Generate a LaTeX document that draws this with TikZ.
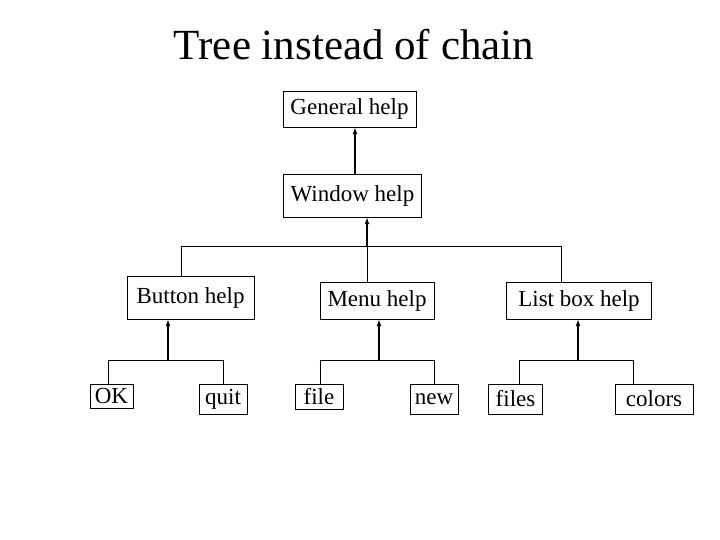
\documentclass[tikz,border=0pt]{standalone}
\usepackage{fontspec}
\setmainfont{Liberation Serif}
\usetikzlibrary{arrows.meta}
\tikzset{box/.style={draw, thin, inner sep=0pt, font=\fontsize{23}{26}\selectfont},
  up/.style={-{Latex[length=7pt,width=5pt]}, line width=1.8pt},
  bus/.style={thin}}
\begin{document}
\begin{tikzpicture}[x=1pt, y=-1pt]
  \useasboundingbox (0,0) rectangle (720,540);
  \node[font=\fontsize{43}{48}\selectfont] (title) at (354,45) {Tree instead of chain};

  % upper part
  \node[box, minimum width=133, minimum height=36] (gen) at (349.5,109) {General help};
  \node[box, minimum width=138, minimum height=43] (win) at (352.5,195.5) {Window help};
  \draw[up] (355,174) coordinate (w0) -- (w0 |- gen.south);

  % middle level
  \node[box, minimum width=127, minimum height=43] (btn) at (190.5,297.5) {Button help};
  \node[box, minimum width=114, minimum height=37] (menu) at (377,300.5) {Menu help};
  \node[box, minimum width=145, minimum height=37] (list) at (579,300.5) {List box help};
  \coordinate (m0) at (367,246);
  \draw[up] (m0) -- (m0 |- win.south);
  \draw[bus] (181,246) coordinate (m1) -- (561,246) coordinate (m3);
  \draw[bus] (m1) -- (m1 |- btn.north);
  \draw[bus] (m0) -- (m0 |- menu.north);
  \draw[bus] (m3) -- (m3 |- list.north);

  % leaves
  \node[box, minimum width=43, minimum height=24] (ok) at (111.5,396) {OK};
  \node[box, minimum width=48, minimum height=30] (quit) at (223,399) {quit};
  \node[box, minimum width=48, minimum height=25] (file) at (319,396.5) {file};
  \node[box, minimum width=48, minimum height=30] (new) at (434,399) {new};
  \node[box, minimum width=54, minimum height=30] (files) at (515.5,399) {files};
  \node[box, minimum width=78, minimum height=30] (colors) at (654,399) {colors};

  \foreach \pa/\x/\l/\r/\a/\b in {btn/168/108.6/223/ok/quit,
      menu/379/319.7/434/file/new, list/578/519/633/files/colors}{
    \coordinate (p) at (\x,360);
    \draw[up] (p) -- (p |- \pa.south);
    \draw[bus] (\l,360) coordinate (q1) -- (\r,360) coordinate (q2);
    \draw[bus] (q1) -- (q1 |- \a.north);
    \draw[bus] (q2) -- (q2 |- \b.north);
  }
\end{tikzpicture}
\end{document}
